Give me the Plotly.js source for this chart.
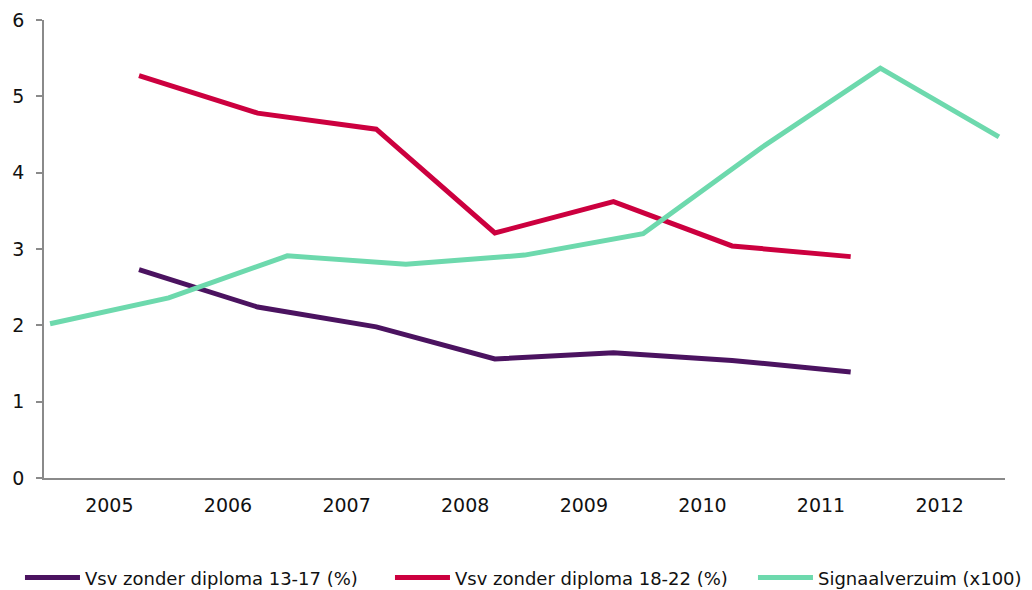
<!DOCTYPE html>
<html>
<head>
<meta charset="utf-8">
<script src="https://cdn.plot.ly/plotly-3.0.1.min.js"></script>
<style>
  html, body { margin: 0; padding: 0; background: #ffffff; }
  #chart { width: 1032px; height: 590px; }
</style>
</head>
<body>
<div id="chart"></div>
<script>
// Tick labels (school years on the category axis)
const yearLabels = [2005, 2006, 2007, 2008, 2009, 2010, 2011, 2012];

// Vsv series are plotted a quarter into each year
const vsvYears = [2005.25, 2006.25, 2007.25, 2008.25, 2009.25, 2010.25, 2011.25];
const vsv1317 = [2.73, 2.24, 1.98, 1.56, 1.64, 1.54, 1.39];
const vsv1822 = [5.27, 4.78, 4.57, 3.21, 3.62, 3.04, 2.90];

// Signaalverzuim is plotted on the boundaries between years
const signaalYears = [2004.5, 2005.5, 2006.5, 2007.5, 2008.5, 2009.5, 2010.5, 2011.5, 2012.5];
const signaalverzuim = [2.02, 2.36, 2.91, 2.80, 2.92, 3.20, 4.33, 5.37, 4.47];

const seriesNames = [
  'Vsv zonder diploma 13-17 (%)',
  'Vsv zonder diploma 18-22 (%)',
  'Signaalverzuim (x100)'
];
const colors = ['#4b1360', '#cc003f', '#6dd9ad'];
const legendWidths = [300, 293, 206];

const traces = [
  { x: vsvYears, y: vsv1317, name: seriesNames[0] },
  { x: vsvYears, y: vsv1822, name: seriesNames[1] },
  { x: signaalYears, y: signaalverzuim, name: seriesNames[2] }
].map((t, i) => Object.assign(t, {
  type: 'scatter',
  mode: 'lines',
  line: { color: colors[i], width: 5 },
  legendwidth: legendWidths[i],
  hoverinfo: 'x+y+name'
}));

const fontFamily = 'DejaVu Sans, Verdana, sans-serif';

const layout = {
  width: 1032,
  height: 590,
  margin: { l: 44, r: 27, t: 20, b: 112, autoexpand: false },
  paper_bgcolor: '#ffffff',
  plot_bgcolor: '#ffffff',
  font: { family: fontFamily, size: 19, color: '#111111' },
  showlegend: true,
  legend: {
    orientation: 'h',
    x: -0.025,
    xanchor: 'left',
    y: -0.218,
    yanchor: 'middle',
    itemwidth: 55,
    font: { family: fontFamily, size: 18, color: '#111111' },
    bgcolor: 'rgba(0,0,0,0)'
  },
  xaxis: {
    range: [2004.449, 2012.551],
    tickmode: 'array',
    tickvals: yearLabels,
    ticktext: yearLabels.map(String),
    ticks: '',
    ticklabelstandoff: 9,
    showgrid: false,
    zeroline: false,
    showline: true,
    linecolor: '#8a8a8a',
    linewidth: 1.5,
    fixedrange: true
  },
  yaxis: {
    range: [0, 6],
    tickmode: 'linear',
    tick0: 0,
    dtick: 1,
    ticks: 'outside',
    ticklen: 6,
    tickwidth: 1.5,
    tickcolor: '#8a8a8a',
    ticklabelstandoff: 8,
    showgrid: false,
    zeroline: false,
    showline: true,
    linecolor: '#8a8a8a',
    linewidth: 1.5,
    fixedrange: true
  }
};

Plotly.newPlot('chart', traces, layout, { displayModeBar: false, responsive: false });
</script>
</body>
</html>
